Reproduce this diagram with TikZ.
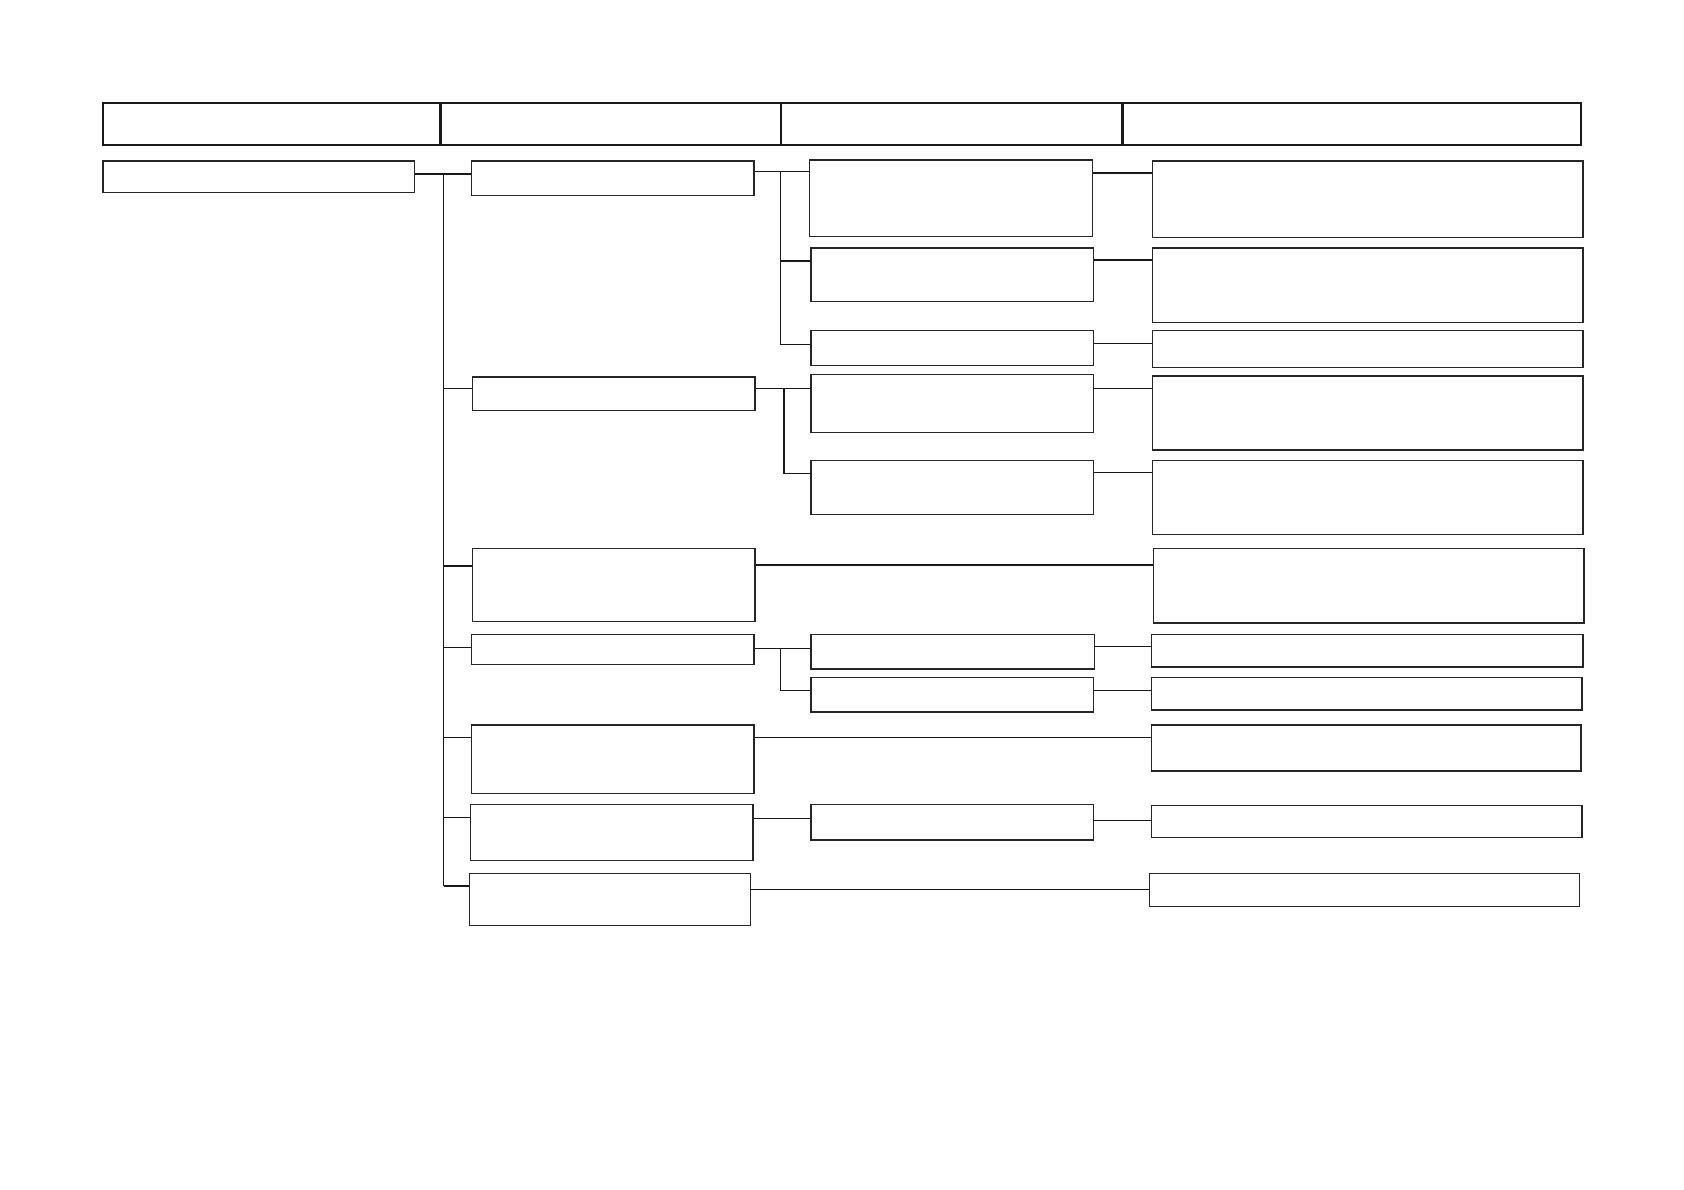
\documentclass[tikz,border=0pt]{standalone}
\usetikzlibrary{fit}
\begin{document}
\begin{tikzpicture}[x=0.5pt,y=-0.5pt,
  bx/.style={draw=black!85, line width=0.6pt, inner sep=0pt},
  hd/.style={draw=black!90, line width=1.2pt, inner sep=0pt},
  ln/.style={draw=black!90, line width=0.6pt}]
\useasboundingbox (0,0) rectangle (1568,1108);
% header
\node[hd, fit={(96,96) (410,135)}] (h1) {};
\node[hd, fit={(410,96) (727,135)}] (h2) {};
\node[hd, fit={(727,96) (1045,135)}] (h3) {};
\node[hd, fit={(1045,96) (1472,135)}] (h4) {};
% column 1
\node[bx, fit={(96,150) (386,179)}] (root) {};
% column 2
\node[bx, fit={(439,150) (702,182)}] (A) {};
\node[bx, fit={(440,351) (703,382)}] (B) {};
\node[bx, fit={(440,511) (703,579)}] (C) {};
\node[bx, fit={(439,591) (702,619)}] (D) {};
\node[bx, fit={(439,675) (702,739)}] (E) {};
\node[bx, fit={(438,749) (701,801)}] (F) {};
\node[bx, fit={(437,813) (699,862)}] (G) {};
% column 3
\node[bx, fit={(754,149) (1017,220)}] (A1) {};
\node[bx, fit={(755,231) (1018,281)}] (A2) {};
\node[bx, fit={(755,308) (1018,340)}] (A3) {};
\node[bx, fit={(755,349) (1018,403)}] (B1) {};
\node[bx, fit={(755,429) (1018,479)}] (B2) {};
\node[bx, fit={(755,591) (1019,623)}] (D1) {};
\node[bx, fit={(755,631) (1018,663)}] (D2) {};
\node[bx, fit={(755,749) (1018,782)}] (F1) {};
% column 4
\node[bx, fit={(1073,150) (1474,221)}] (A1r) {};
\node[bx, fit={(1073,231) (1474,300)}] (A2r) {};
\node[bx, fit={(1073,308) (1474,342)}] (A3r) {};
\node[bx, fit={(1073,350) (1474,419)}] (B1r) {};
\node[bx, fit={(1073,429) (1474,498)}] (B2r) {};
\node[bx, fit={(1074,511) (1475,580)}] (Cr) {};
\node[bx, fit={(1072,591) (1474,621)}] (D1r) {};
\node[bx, fit={(1072,631) (1473,661)}] (D2r) {};
\node[bx, fit={(1072,675) (1472,718)}] (Er) {};
\node[bx, fit={(1072,750) (1473,780)}] (F1r) {};
\node[bx, fit={(1070,813) (1471,844)}] (Gr) {};
% trunk
\coordinate (tA) at (413,162);
\coordinate (tB) at (413,362);
\coordinate (tC) at (413,527);
\coordinate (tD) at (413,603);
\coordinate (tE) at (413,687);
\coordinate (tF) at (413,761);
\coordinate (tG) at (413,825);
\draw[ln] (root.east |- tA) -- (A.west |- tA);
\draw[ln] (tA) -- (tG);
\draw[ln] (tB) -- (B.west |- tB);
\draw[ln] (tC) -- (C.west |- tC);
\draw[ln] (tD) -- (D.west |- tD);
\draw[ln] (tE) -- (E.west |- tE);
\draw[ln] (tF) -- (F.west |- tF);
\draw[ln] (tG) -- (G.west |- tG);
% A branch
\coordinate (a1) at (727,160);
\coordinate (a2) at (727,243);
\coordinate (a3) at (727,321);
\draw[ln] (A.east |- a1) -- (A1.west |- a1);
\draw[ln] (a1) -- (a3);
\draw[ln] (a2) -- (A2.west |- a2);
\draw[ln] (a3) -- (A3.west |- a3);
% B branch
\coordinate (b1) at (730,362);
\coordinate (b2) at (730,441);
\draw[ln] (B.east |- b1) -- (B1.west |- b1);
\draw[ln] (b1) -- (b2);
\draw[ln] (b2) -- (B2.west |- b2);
% D branch
\coordinate (d1) at (727,604);
\coordinate (d2) at (727,643);
\draw[ln] (D.east |- d1) -- (D1.west |- d1);
\draw[ln] (d1) -- (d2);
\draw[ln] (d2) -- (D2.west |- d2);
% F branch
\coordinate (f1) at (0,762);
\draw[ln] (F.east |- f1) -- (F1.west |- f1);
% to column 4
\coordinate (r1) at (0,161);
\coordinate (r2) at (0,242);
\coordinate (r3) at (0,320);
\coordinate (r4) at (0,362);
\coordinate (r5) at (0,440);
\coordinate (r6) at (0,526);
\coordinate (r7) at (0,602);
\coordinate (r8) at (0,643);
\coordinate (r9) at (0,687);
\coordinate (r10) at (0,764);
\coordinate (r11) at (0,828);
\draw[ln] (A1.east |- r1) -- (A1r.west |- r1);
\draw[ln] (A2.east |- r2) -- (A2r.west |- r2);
\draw[ln] (A3.east |- r3) -- (A3r.west |- r3);
\draw[ln] (B1.east |- r4) -- (B1r.west |- r4);
\draw[ln] (B2.east |- r5) -- (B2r.west |- r5);
\draw[ln] (C.east |- r6) -- (Cr.west |- r6);
\draw[ln] (D1.east |- r7) -- (D1r.west |- r7);
\draw[ln] (D2.east |- r8) -- (D2r.west |- r8);
\draw[ln] (E.east |- r9) -- (Er.west |- r9);
\draw[ln] (F1.east |- r10) -- (F1r.west |- r10);
\draw[ln] (G.east |- r11) -- (Gr.west |- r11);
\end{tikzpicture}
\end{document}
